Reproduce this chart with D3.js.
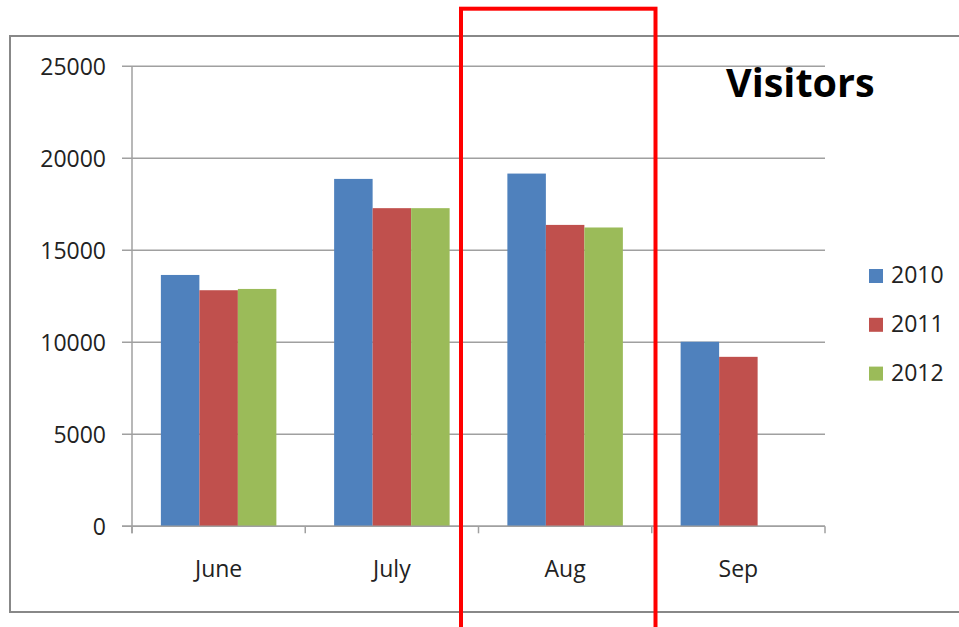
<!DOCTYPE html>
<html><head><meta charset="utf-8">
<script src="https://cdn.jsdelivr.net/npm/d3@7/dist/d3.min.js"></script>
<style>html,body{margin:0;padding:0;background:#fff;}svg{display:block;}</style>
</head><body>
<script>
const months = ["June", "July", "Aug", "Sep"];
const seriesNames = ["2010", "2011", "2012"];
const v2010 = [13660, 18880, 19170, 10030];
const v2011 = [12830, 17290, 16380, 9210];
const v2012 = [12900, 17290, 16240, null];
const yTicks = [0, 5000, 10000, 15000, 20000, 25000];
const colors = ["#4F81BD", "#C0504D", "#9BBB59"];
const title = "Visitors";

(function () {
const W = 959, H = 627;
const svg = d3.select("body").append("svg").attr("width", W).attr("height", H);
const font = "'Open Sans', sans-serif";

// outer chart frame
svg.append("rect").attr("x", 10).attr("y", 36).attr("width", 1000).attr("height", 576)
  .attr("fill", "#fff").attr("stroke", "#888").attr("stroke-width", 2);

const pLeft = 132, pRight = 825, pTop = 66.3, pBottom = 526.3;
const y = d3.scaleLinear().domain([0, 25000]).range([pBottom, pTop]);
const x = d3.scaleBand().domain(months).range([pLeft, pRight]).paddingInner(0).paddingOuter(0);
const bw = x.bandwidth();
const barW = bw / (seriesNames.length + 1.5);
const xs = d3.scaleBand().domain(seriesNames).range([barW * 0.75, bw - barW * 0.75]);

// gridlines + y ticks
svg.append("g").selectAll("line").data(yTicks).join("line")
  .attr("x1", pLeft - 10).attr("x2", pRight)
  .attr("y1", d => y(d)).attr("y2", d => y(d))
  .attr("stroke", "#a0a0a0").attr("stroke-width", 1.5);

svg.append("g").selectAll("text").data(yTicks).join("text")
  .attr("x", 106).attr("y", d => y(d)).attr("dy", "0.36em")
  .attr("text-anchor", "end").attr("font-family", font).attr("font-size", 23)
  .attr("fill", "#222").text(d => d);

// y axis line
svg.append("line").attr("x1", pLeft).attr("x2", pLeft).attr("y1", pTop).attr("y2", pBottom + 7)
  .attr("stroke", "#a0a0a0").attr("stroke-width", 1.5);

// bars
const seriesVals = [v2010, v2011, v2012];
const g = svg.append("g");
months.forEach((m, i) => {
  seriesNames.forEach((s, j) => {
    const v = seriesVals[j][i];
    if (v == null) return;
    g.append("rect")
      .attr("x", x(m) + xs(s)).attr("width", xs.bandwidth())
      .attr("y", y(v)).attr("height", y(0) - y(v))
      .attr("fill", colors[j]);
  });
});

// x axis line and ticks
svg.append("line").attr("x1", pLeft - 10).attr("x2", pRight).attr("y1", pBottom).attr("y2", pBottom)
  .attr("stroke", "#a0a0a0").attr("stroke-width", 1.5);
const bounds = months.map(m => x(m)).concat([pRight]);
svg.append("g").selectAll("line").data(bounds).join("line")
  .attr("x1", d => d).attr("x2", d => d).attr("y1", pBottom).attr("y2", pBottom + 7)
  .attr("stroke", "#a0a0a0").attr("stroke-width", 1.5);

svg.append("g").selectAll("text").data(months).join("text")
  .attr("x", d => x(d) + bw / 2).attr("y", 577)
  .attr("text-anchor", "middle").attr("font-family", font).attr("font-size", 23)
  .attr("fill", "#222").text(d => d);

// title
svg.append("text").attr("x", 726).attr("y", 96.5).attr("font-family", font)
  .attr("font-weight", "bold").attr("font-size", 39.5).attr("fill", "#000").text(title);

// legend
const lg = svg.append("g");
seriesNames.forEach((s, j) => {
  const yy = 269 + j * 48.8;
  lg.append("rect").attr("x", 869).attr("y", yy).attr("width", 14).attr("height", 14).attr("fill", colors[j]);
  lg.append("text").attr("x", 891).attr("y", yy + 14).attr("font-family", font).attr("font-size", 23)
    .attr("fill", "#222").text(s);
});

// red highlight rectangle
svg.append("rect").attr("x", 461).attr("y", 8.7).attr("width", 194.5).attr("height", 700)
  .attr("fill", "none").attr("stroke", "#ff0000").attr("stroke-width", 4);
})();
</script>
</body></html>
